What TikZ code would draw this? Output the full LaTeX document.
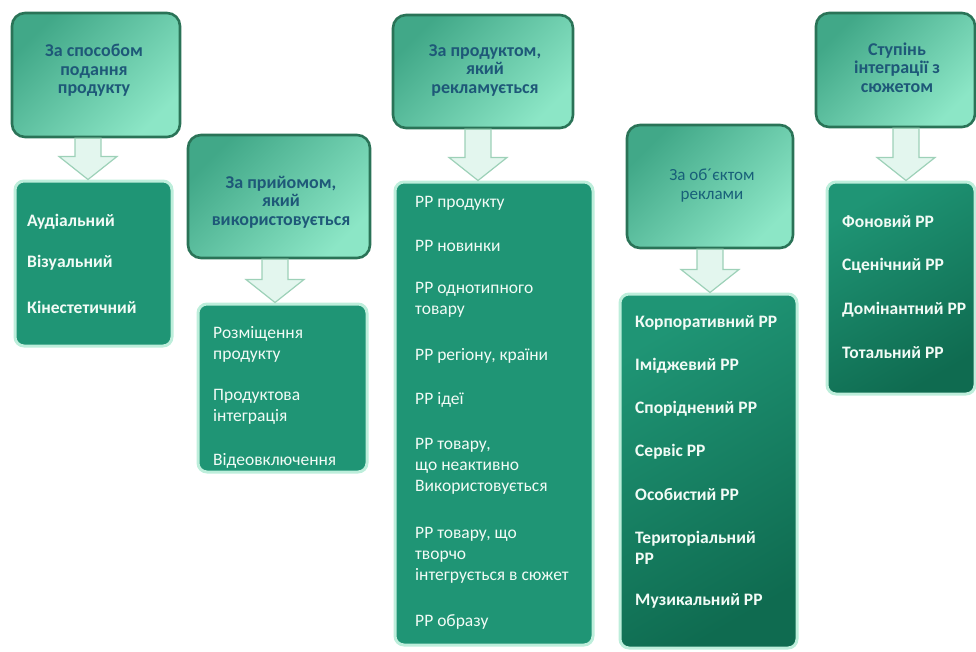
\documentclass[tikz,border=0pt]{standalone}
\usepackage{fontspec}
\setmainfont{Carlito}
\usetikzlibrary{calc}

\definecolor{headline}{HTML}{2A7357}
\definecolor{headdark}{HTML}{41A888}
\definecolor{headlight}{HTML}{8CE6C6}
\definecolor{headtext}{HTML}{1E5878}
\definecolor{itemfill}{HTML}{1F9575}
\definecolor{itemdark}{HTML}{0F6B50}
\definecolor{itemglow}{HTML}{BDEEDB}
\definecolor{itemtext}{HTML}{F2FBF6}
\definecolor{arrowfill}{HTML}{E3F6EE}
\definecolor{arrowline}{HTML}{9DD1B8}

\tikzset{
  headbox/.style={rounded corners=13pt, draw=headline, line width=2.6pt,
    top color=headdark, bottom color=headlight, shading angle=45},
  headtxt/.style={inner sep=0pt, align=center, text=headtext,
    font=\fontsize{18}{18.5}\selectfont\bfseries},
  itembox/.style={rounded corners=9pt, draw=itemglow, line width=3pt, fill=itemfill},
  itemshade/.style={itembox, top color=itemfill, bottom color=itemdark, shading angle=30},
  itemtxt/.style={anchor=west, inner sep=0pt, align=left, text=itemtext,
    font=\fontsize{17.5}{21}\selectfont},
  itembold/.style={itemtxt, font=\fontsize{17.5}{21}\selectfont\bfseries},
  blockarrow/.style={fill=arrowfill, draw=arrowline, line width=1.2pt, line join=miter}
}

\newcommand{\blockdown}[2]{%
  \draw[blockarrow] ($(#1)+(-13,0)$) -- ($(#2)+(-13,-23)$) -- ($(#2)+(-29,-23)$) -- (#2)
    -- ($(#2)+(29,-23)$) -- ($(#2)+(13,-23)$) -- ($(#1)+(13,0)$) -- cycle;}

\begin{document}
\begin{tikzpicture}[x=1pt, y=-1pt]
  \useasboundingbox (0,0) rectangle (976,651);

  \node[headbox, minimum width=168pt, minimum height=124pt] (h1) at (96,75) {};
  \node[headtxt] (h1t) at (94,70.5) {За способом\\подання\\продукту};
  \node[itembox, minimum width=157pt, minimum height=165pt] (c1) at (93.5,263.5) {};
  \node[itembold] (c1a) at (27,222) {Аудіальний};
  \node[itembold] (c1b) at (27,263) {Візуальний};
  \node[itembold] (c1c) at (27,307) {Кінестетичний};

  \node[headbox, minimum width=182pt, minimum height=123pt] (h2) at (279,196.5) {};
  \node[headtxt] (h2t) at (281,202) {За прийомом,\\який\\використовується};
  \node[itembox, minimum width=169pt, minimum height=168pt] (c2) at (282.5,388) {};
  \node[itemtxt] (c2a) at (213,344) {Розміщення\\продукту};
  \node[itemtxt] (c2b) at (213,407) {Продуктова\\інтеграція};
  \node[itemtxt] (c2c) at (213,461) {Відеовключення};

  \node[headbox, minimum width=180pt, minimum height=113pt] (h3) at (483,71.5) {};
  \node[headtxt] (h3t) at (485,70.5) {За продуктом,\\який\\рекламується};
  \node[itembox, minimum width=198pt, minimum height=463pt] (c3) at (494,413.5) {};
  \node[itemtxt] (c3a) at (415,203) {РР продукту};
  \node[itemtxt] (c3b) at (415,246) {РР новинки};
  \node[itemtxt] (c3c) at (415,300) {РР однотипного\\товару};
  \node[itemtxt] (c3d) at (415,356) {РР регіону, країни};
  \node[itemtxt] (c3e) at (415,400) {РР ідеї};
  \node[itemtxt] (c3f) at (415,466) {РР товару,\\що неактивно\\Використовується};
  \node[itemtxt] (c3g) at (415,555) {РР товару, що\\творчо\\інтегрується в сюжет};
  \node[itemtxt] (c3h) at (415,622) {РР образу};

  \node[headbox, minimum width=166pt, minimum height=123pt] (h4) at (710,186.5) {};
  \node[headtxt, font=\fontsize{17}{19}\selectfont, text=headtext!80!teal] (h4t) at (712,186) {За об´єктом\\реклами};
  \node[itemshade, minimum width=177pt, minimum height=354pt] (c4) at (708.5,471) {};
  \node[itembold] (c4a) at (635,323) {Корпоративний РР};
  \node[itembold] (c4b) at (635,366) {Іміджевий РР};
  \node[itembold] (c4c) at (635,409) {Споріднений РР};
  \node[itembold] (c4d) at (635,452) {Сервіс РР};
  \node[itembold] (c4e) at (635,495) {Особистий РР};
  \node[itembold] (c4f) at (635,548) {Територіальний\\РР};
  \node[itembold] (c4g) at (635,601) {Музикальний РР};

  \node[headbox, minimum width=159pt, minimum height=114pt] (h5) at (895.5,70) {};
  \node[headtxt] (h5t) at (897,67.5) {Ступінь\\інтеграції з\\сюжетом};
  \node[itemshade, minimum width=148pt, minimum height=212pt] (c5) at (901,288) {};
  \node[itembold] (c5a) at (842,222) {Фоновий РР};
  \node[itembold] (c5b) at (842,266) {Сценічний РР};
  \node[itembold] (c5c) at (842,310) {Домінантний РР};
  \node[itembold] (c5d) at (842,353) {Тотальний РР};

  \coordinate (a1) at (88,0 |- h1.south);
  \coordinate (b1) at (88,0 |- c1.north);
  \coordinate (a2) at (275,0 |- h2.south);
  \coordinate (b2) at (275,0 |- c2.north);
  \coordinate (a3) at (478,0 |- h3.south);
  \coordinate (b3) at (478,0 |- c3.north);
  \coordinate (a4) at (710,0 |- h4.south);
  \coordinate (b4) at (710,0 |- c4.north);
  \coordinate (a5) at (906,0 |- h5.south);
  \coordinate (b5) at (906,0 |- c5.north);
  \blockdown{a1}{b1}
  \blockdown{a2}{b2}
  \blockdown{a3}{b3}
  \blockdown{a4}{b4}
  \blockdown{a5}{b5}
\end{tikzpicture}
\end{document}
